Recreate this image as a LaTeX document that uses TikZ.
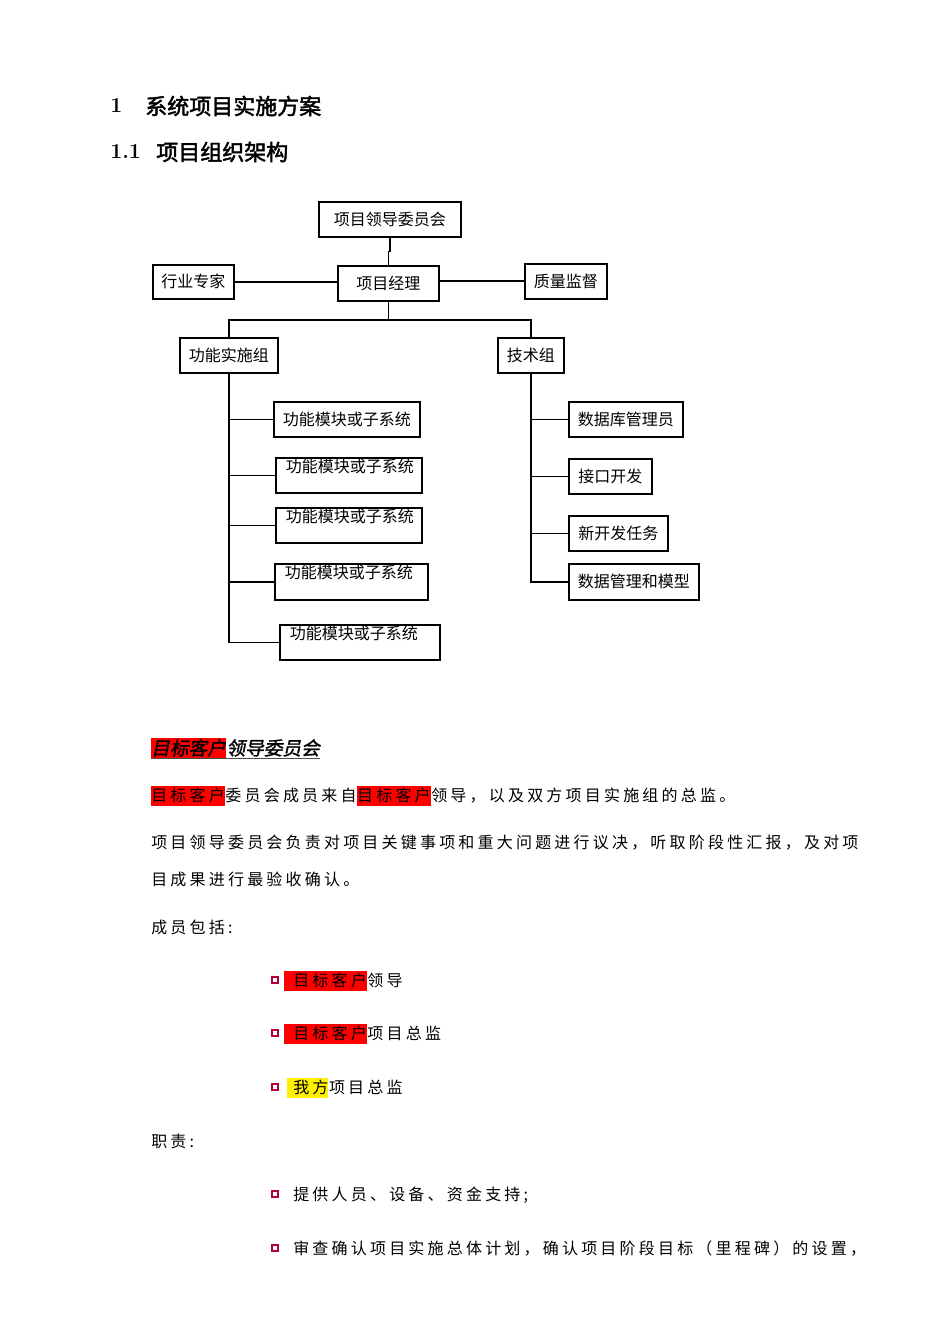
\documentclass[tikz,border=0pt]{standalone}
\usepackage{fontspec}
\newfontfamily\cjk{Noto Sans CJK SC}
\newfontfamily\cjkbody[LetterSpace=20]{Noto Sans CJK SC}
\newfontfamily\cjkhead[FakeBold=2]{Noto Sans CJK SC}
\newfontfamily\cjkbi[FakeBold=1.5,FakeSlant=0.2]{Noto Sans CJK SC}
\definecolor{bulletred}{HTML}{B0003A}
\begin{document}
\begin{tikzpicture}[x=0.75pt,y=-0.75pt,
  box/.style={draw, line width=1.25pt, inner sep=0pt, anchor=north west,
    font=\cjk\fontsize{12pt}{14pt}\selectfont},
  modbox/.style={box, inner xsep=7.5pt, inner ysep=0pt, align=left,
    text height=11.25pt},
  conn/.style={line width=1.25pt},
  body/.style={inner sep=0pt, anchor=base west,
    font=\cjkbody\fontsize{12pt}{14pt}\selectfont},
  hl/.style={body, fill=red, text height=11pt, text depth=3.5pt},
  yl/.style={body, fill=yellow, text height=11pt, text depth=3.5pt},
  bul/.style={draw=bulletred, line width=1.4pt, fill=white, minimum size=4.6pt, inner sep=0pt},
  headnum/.style={anchor=west, inner sep=0pt, font=\bfseries\fontsize{16pt}{18pt}\selectfont},
  headtxt/.style={anchor=west, inner sep=0pt, font=\cjkhead\fontsize{16.5pt}{18pt}\selectfont},
  titl/.style={inner sep=0pt, anchor=base west, font=\cjkbi\fontsize{14pt}{16pt}\selectfont},
  titlhl/.style={titl, fill=red, text height=12.5pt, text depth=3pt}
]
\useasboundingbox (0,0) rectangle (950,1344);
\fill[white] (0,0) rectangle (950,1344);

% headings
\node[headnum] (h1n) at (110,106) {1};
\node[headtxt] (h1t) at (145,106) {系统项目实施方案};
\node[headnum] (h2n) at (110,152) {1.1};
\node[headtxt] (h2t) at (156,152) {项目组织架构};

% chart boxes
\node[box, minimum width=106.5pt, minimum height=26.25pt] (lead) at (318,201) {项目领导委员会};
\node[box, minimum width=60.75pt, minimum height=25.5pt] (expert) at (152,264) {行业专家};
\node[box, minimum width=75.75pt, minimum height=26.25pt] (pm) at (337,265) {项目经理};
\node[box, minimum width=61.5pt, minimum height=26.25pt] (qc) at (524,263) {质量监督};
\node[box, minimum width=73.5pt, minimum height=26.25pt] (fg) at (179,337) {功能实施组};
\node[box, minimum width=49.5pt, minimum height=26.25pt] (js) at (497,337) {技术组};

\node[box, minimum width=109.5pt, minimum height=26.25pt] (m1) at (273,401) {功能模块或子系统};
\node[modbox, text width=94.5pt, text depth=15pt] (m2) at (275,457) {功能模块或子系统};
\node[modbox, text width=94.5pt, text depth=15pt] (m3) at (275,507) {功能模块或子系统};
\node[modbox, text width=99.75pt, text depth=15.75pt] (m4) at (274,563) {功能模块或子系统};
\node[modbox, text width=105pt, text depth=15pt] (m5) at (279,624) {功能模块或子系统};

\node[box, minimum width=85.5pt, minimum height=26.25pt] (t1) at (568,401) {数据库管理员};
\node[box, minimum width=62.25pt, minimum height=26.25pt] (t2) at (568,458) {接口开发};
\node[box, minimum width=74.25pt, minimum height=26.25pt] (t3) at (568,515) {新开发任务};
\node[box, minimum width=97.5pt, minimum height=27pt] (t4) at (568,563) {数据管理和模型};

% connectors
\draw[conn] (lead.south) -- ++(0,14) -| (pm.north);
\draw[conn] (expert.east) -- (expert.east -| pm.west);
\draw[conn] (qc.west -| pm.east) -- (qc.west);
\draw[conn] (pm.south) -- ++(0,18) coordinate (bus);
\draw[conn] (fg.north) |- (bus) -| (js.north);
\draw[conn] (fg.south) -- (fg.south |- m5.west) -- (m5.west);
\foreach \m in {m1,m2,m3,m4} \draw[conn] (fg.south |- \m.west) -- (\m.west);
\draw[conn] (js.south) -- (js.south |- t4.west) -- (t4.west);
\foreach \t in {t1,t2,t3} \draw[conn] (js.south |- \t.west) -- (\t.west);

% section title
\node[titlhl] (ta) at (151,755) {目标客户};
\node[titl] (tb) at (ta.base east) {领导委员会};
\draw[line width=1.1pt, black!70] ([yshift=-2.5pt]ta.base west) -- ([yshift=-2.5pt]tb.base east);

% paragraphs
\node[hl] (p1a) at (151,801) {目标客户};
\node[body] (p1b) at (p1a.base east) {委员会成员来自};
\node[hl] (p1c) at (p1b.base east) {目标客户};
\node[body] (p1d) at (p1c.base east) {领导，以及双方项目实施组的总监。};

\node[body] (p2) at (151,848) {项目领导委员会负责对项目关键事项和重大问题进行议决，听取阶段性汇报，及对项};
\node[body] (p3) at (151,885) {目成果进行最验收确认。};
\node[body] (p4) at (151,933) {成员包括:};

\node[bul] (b1) at (275,980) {};
\node[hl] (i1a) at (284,986) {\hspace{6.75pt}目标客户};
\node[body] (i1b) at (i1a.base east) {领导};

\node[bul] (b2) at (275,1033) {};
\node[hl] (i2a) at (284,1039) {\hspace{6.75pt}目标客户};
\node[body] (i2b) at (i2a.base east) {项目总监};

\node[bul] (b3) at (275,1087) {};
\node[yl] (i3a) at (287,1093) {\hspace{4.5pt}我方};
\node[body] (i3b) at (i3a.base east) {项目总监};

\node[body] (p5) at (151,1147) {职责:};

\node[bul] (b4) at (275,1194) {};
\node[body] (i4) at (293,1200) {提供人员、设备、资金支持;};

\node[bul] (b5) at (275,1248) {};
\node[body] (i5) at (293,1254) {审查确认项目实施总体计划，确认项目阶段目标（里程碑）的设置，};
\end{tikzpicture}
\end{document}
